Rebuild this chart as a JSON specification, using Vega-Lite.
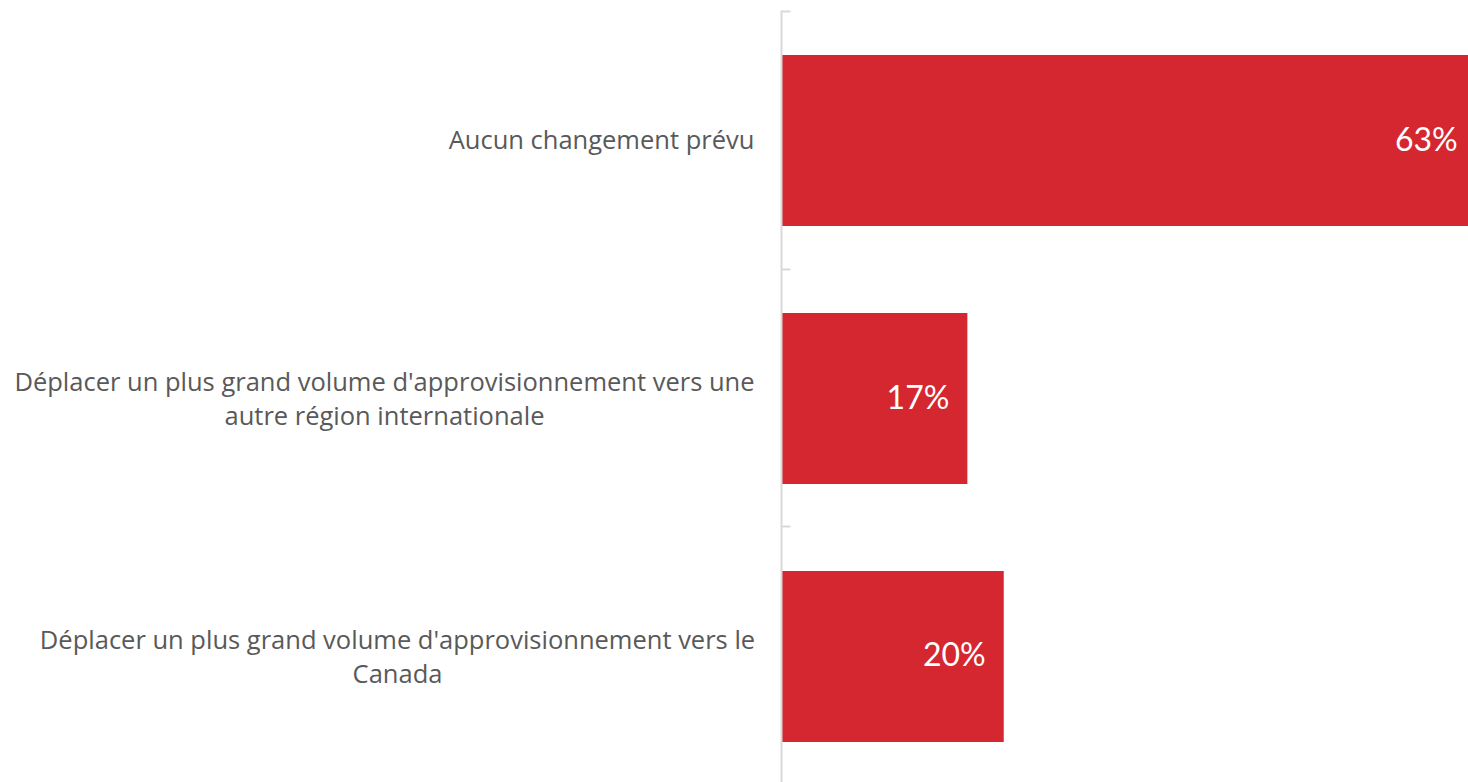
{
  "$schema": "https://vega.github.io/schema/vega-lite/v6.json",
  "autosize": {"type": "none"},
  "width": 687,
  "height": 777,
  "padding": {"left": 781, "top": 10, "right": 0, "bottom": 0},
  "background": "white",
  "config": {"view": {"stroke": null}, "font": "Open Sans"},
  "data": {
    "values": [
      {"cat": "Aucun changement prévu", "value": 63, "label": "63%"},
      {"cat": "Déplacer un plus grand volume d'approvisionnement vers une|autre région internationale", "value": 16.9, "label": "17%"},
      {"cat": "Déplacer un plus grand volume d'approvisionnement vers le|Canada", "value": 20.2, "label": "20%"}
    ]
  },
  "encoding": {
    "y": {
      "field": "cat",
      "type": "nominal",
      "sort": null,
      "title": null,
      "scale": {"paddingInner": 0.337, "paddingOuter": 0.1744},
      "axis": {
        "zindex": 1,
        "domainColor": "#d9d9d9",
        "domainWidth": 2,
        "ticks": true,
        "tickColor": "#d9d9d9",
        "tickWidth": 2,
        "tickSize": -9,
        "tickOffset": -130,
        "labelOffset": 130,
        "labelAlign": "center",
        "labelPadding": 34,
        "labelFont": "Open Sans",
        "labelFontSize": 25.5,
        "labelColor": "#595959",
        "labelLimit": 0,
        "labelLineHeight": 34,
        "labelExpr": "split(datum.label, '|')",
        "encoding": {
          "labels": {
            "dx": {
              "condition": [
                {"test": "indexof(datum.value, 'Aucun') == 0", "value": -155},
                {"test": "indexof(datum.value, 'une|') >= 0", "value": -372}
              ],
              "value": -359
            },
            "dy": {
              "condition": {"test": "indexof(datum.value, '|') >= 0", "value": -16},
              "value": 0
            }
          }
        }
      }
    },
    "x": {
      "field": "value",
      "type": "quantitative",
      "scale": {"domain": [0, 62.3], "nice": false},
      "axis": null
    }
  },
  "layer": [
    {"mark": {"type": "bar", "color": "#D52730"}},
    {
      "mark": {"type": "text", "align": "right", "baseline": "middle", "dx": -18, "color": "white", "font": "Lato", "fontSize": 32},
      "encoding": {"text": {"field": "label"}}
    }
  ]
}
